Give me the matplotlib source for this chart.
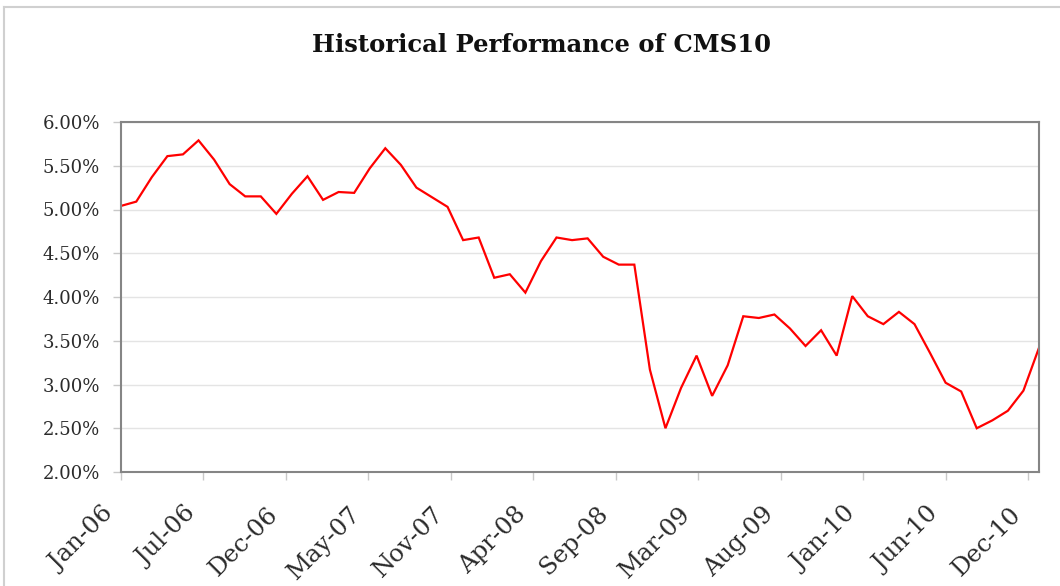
import numpy as np
import matplotlib
matplotlib.use("Agg")
from matplotlib import pyplot as plt
from matplotlib.lines import Line2D
from matplotlib.ticker import PercentFormatter
import matplotlib.transforms as mtransforms

# monthly CMS10 rate, Jan-06 .. Dec-10 (percent)
cms10 = [5.04, 5.09, 5.37, 5.61, 5.63, 5.79, 5.57, 5.29, 5.15, 5.15,
         4.95, 5.18, 5.38, 5.11, 5.20, 5.19, 5.47, 5.70, 5.51, 5.25,
         5.14, 5.03, 4.65, 4.68, 4.22, 4.26, 4.05, 4.41, 4.68, 4.65,
         4.67, 4.46, 4.37, 4.37, 3.17, 2.50, 2.96, 3.33, 2.87, 3.22,
         3.78, 3.76, 3.80, 3.64, 3.44, 3.62, 3.33, 4.01, 3.78, 3.69,
         3.83, 3.69, 3.36, 3.02, 2.92, 2.50, 2.59, 2.70, 2.93, 3.42]
tick_labels = ["Jan-06", "Jul-06", "Dec-06", "May-07", "Nov-07", "Apr-08",
               "Sep-08", "Mar-09", "Aug-09", "Jan-10", "Jun-10", "Dec-10"]
title = "Historical Performance of CMS10"

W, H = 1060, 586
fig = plt.figure(figsize=(W / 100, H / 100), dpi=100)
fig.patch.set_facecolor("white")

# outer chart border (left and top visible)
fig.add_artist(Line2D([4 / W, 4 / W], [0, 1 - 7 / H], color="#d0d0d0", lw=1.5))
fig.add_artist(Line2D([4 / W, 1], [1 - 7 / H, 1 - 7 / H], color="#d0d0d0", lw=1.5))

L, R, T, B = 120.7, 1039, 122, 472
ax = fig.add_axes([L / W, 1 - B / H, (R - L) / W, (B - T) / H])

x = np.arange(len(cms10))
ax.plot(x, cms10, color="#ff0000", lw=1.6, solid_joinstyle="miter")

ax.set_xlim(0, len(cms10) - 1)
ax.set_ylim(2.0, 6.0)
ax.set_yticks(np.arange(2.0, 6.01, 0.5))
ax.yaxis.set_major_formatter(PercentFormatter(decimals=2))
ax.grid(axis="y", color="#e4e4e4", lw=1)
ax.set_axisbelow(True)

# date-axis ticks fall a little short of one per 5.3 months
step = (len(cms10) - 1 - 0.7) / (len(tick_labels) - 1)
ax.set_xticks(np.arange(len(tick_labels)) * step)
ax.set_xticklabels(tick_labels, rotation=45, ha="right", va="top",
                   rotation_mode="anchor")

for s in ax.spines.values():
    s.set_color("#858585")
    s.set_linewidth(1.5)

ax.tick_params(axis="y", length=6, color="#c8c8c8", width=1, pad=9,
               labelsize=13, labelcolor="#2b2b2b")
ax.tick_params(axis="x", length=6, color="#c8c8c8", width=1, pad=16,
               labelsize=17.5, labelcolor="#2b2b2b")
for lab in ax.get_yticklabels() + ax.get_xticklabels():
    lab.set_fontfamily("DejaVu Serif")

off = mtransforms.ScaledTranslation(-19 / 100, 0, fig.dpi_scale_trans)
for lab in ax.get_xticklabels():
    lab.set_transform(lab.get_transform() + off)

fig.text(541 / W, 1 - 45 / H, title, ha="center", va="center",
         fontsize=17.5, fontweight="bold", family="DejaVu Serif", color="#111111")

fig.savefig("out.png", dpi=100)
